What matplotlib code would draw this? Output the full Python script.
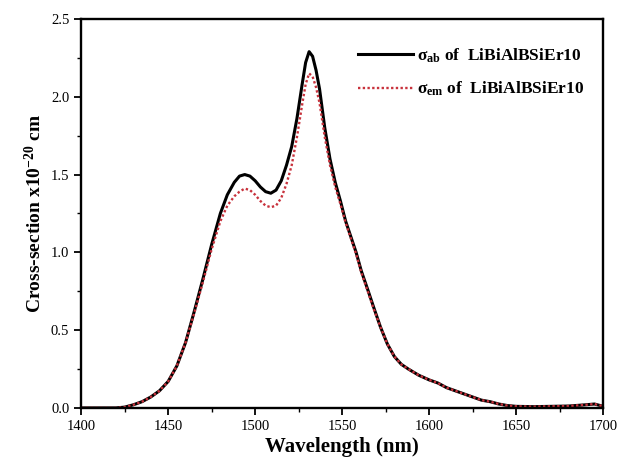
import numpy as np
import matplotlib
matplotlib.use("Agg")
import matplotlib.pyplot as plt
from matplotlib.ticker import MultipleLocator, FormatStrFormatter

plt.rcParams['font.family'] = ['Liberation Serif', 'DejaVu Serif']
plt.rcParams['mathtext.fontset'] = 'custom'
plt.rcParams['mathtext.rm'] = 'Liberation Serif:bold'
plt.rcParams['mathtext.it'] = 'Liberation Serif:bold'
plt.rcParams['mathtext.bf'] = 'Liberation Serif:bold'

# wavelength (nm) and cross sections (x1e-20 cm^2)
wavelength = [1400, 1410, 1420, 1425, 1430, 1435, 1440, 1445, 1450, 1455,
              1460, 1465, 1470, 1475, 1480, 1484, 1488, 1491, 1494, 1497,
              1500, 1503, 1506, 1509, 1512, 1515, 1518, 1521, 1524, 1527,
              1529, 1531, 1533, 1535, 1537, 1540, 1543, 1546, 1549, 1552,
              1555, 1558, 1561, 1565, 1568, 1572, 1576, 1580, 1584, 1588,
              1594, 1600, 1605, 1610, 1615, 1620, 1625, 1630, 1635, 1640,
              1645, 1650, 1660, 1670, 1680, 1690, 1695, 1700]

sigma_ab = [0.0, 0.0, 0.0, 0.005, 0.02, 0.04, 0.07, 0.11, 0.17, 0.27,
            0.42, 0.62, 0.83, 1.05, 1.25, 1.37, 1.45, 1.49, 1.50, 1.49,
            1.46, 1.42, 1.39, 1.38, 1.40, 1.46, 1.56, 1.68, 1.86, 2.08,
            2.22, 2.29, 2.26, 2.17, 2.05, 1.80, 1.60, 1.45, 1.33, 1.20,
            1.10, 1.00, 0.88, 0.75, 0.65, 0.52, 0.41, 0.33, 0.28, 0.25,
            0.21, 0.18, 0.16, 0.13, 0.11, 0.09, 0.07, 0.05, 0.04, 0.025,
            0.015, 0.01, 0.008, 0.01, 0.012, 0.02, 0.025, 0.01]

sigma_em = [0.0, 0.0, 0.0, 0.005, 0.02, 0.04, 0.07, 0.11, 0.17, 0.27,
            0.42, 0.61, 0.81, 1.02, 1.20, 1.30, 1.36, 1.39, 1.41, 1.40,
            1.37, 1.33, 1.30, 1.29, 1.30, 1.35, 1.44, 1.56, 1.74, 1.95,
            2.08, 2.15, 2.13, 2.06, 1.96, 1.74, 1.56, 1.42, 1.31, 1.19,
            1.09, 0.99, 0.87, 0.74, 0.64, 0.52, 0.41, 0.33, 0.28, 0.25,
            0.21, 0.18, 0.16, 0.13, 0.11, 0.09, 0.07, 0.05, 0.04, 0.025,
            0.015, 0.01, 0.008, 0.01, 0.012, 0.02, 0.025, 0.01]

fig = plt.figure(figsize=(6.29, 4.63), dpi=100)
ax = fig.add_axes([0.129, 0.119, 0.83, 0.84])

ax.plot(wavelength, sigma_ab, color='black', lw=2.2,
        label=r'$\sigma_{ab}$ of  LiBiAlBSiEr10')
ax.plot(wavelength, sigma_em, color='#c8323c', lw=1.7, ls=(0, (1, 1)),
        label=r'$\sigma_{em}$ of  LiBiAlBSiEr10')

ax.set_xlim(1400, 1700)
ax.set_ylim(0, 2.5)
ax.xaxis.set_major_locator(MultipleLocator(50))
ax.xaxis.set_minor_locator(MultipleLocator(25))
ax.yaxis.set_major_locator(MultipleLocator(0.5))
ax.yaxis.set_minor_locator(MultipleLocator(0.25))
ax.yaxis.set_major_formatter(FormatStrFormatter('%.1f'))

ax.tick_params(which='major', direction='out', length=5, width=1.3, labelsize=10.5)
ax.tick_params(which='minor', direction='out', length=3, width=1.0)
for sp in ax.spines.values():
    sp.set_linewidth(1.7)

ax.set_xlabel('Wavelength (nm)', fontsize=15, fontweight='bold', labelpad=3)
ax.set_ylabel(r'Cross-section x10$^{-20}$ cm', fontsize=14, fontweight='bold')

ax.legend(loc='upper right', bbox_to_anchor=(0.99, 0.965), frameon=False,
          prop={'size': 12.5, 'weight': 'bold'}, handlelength=3.2,
          labelspacing=0.85, handletextpad=0.2, borderpad=0.3)

fig.savefig('out.png', dpi=100)
